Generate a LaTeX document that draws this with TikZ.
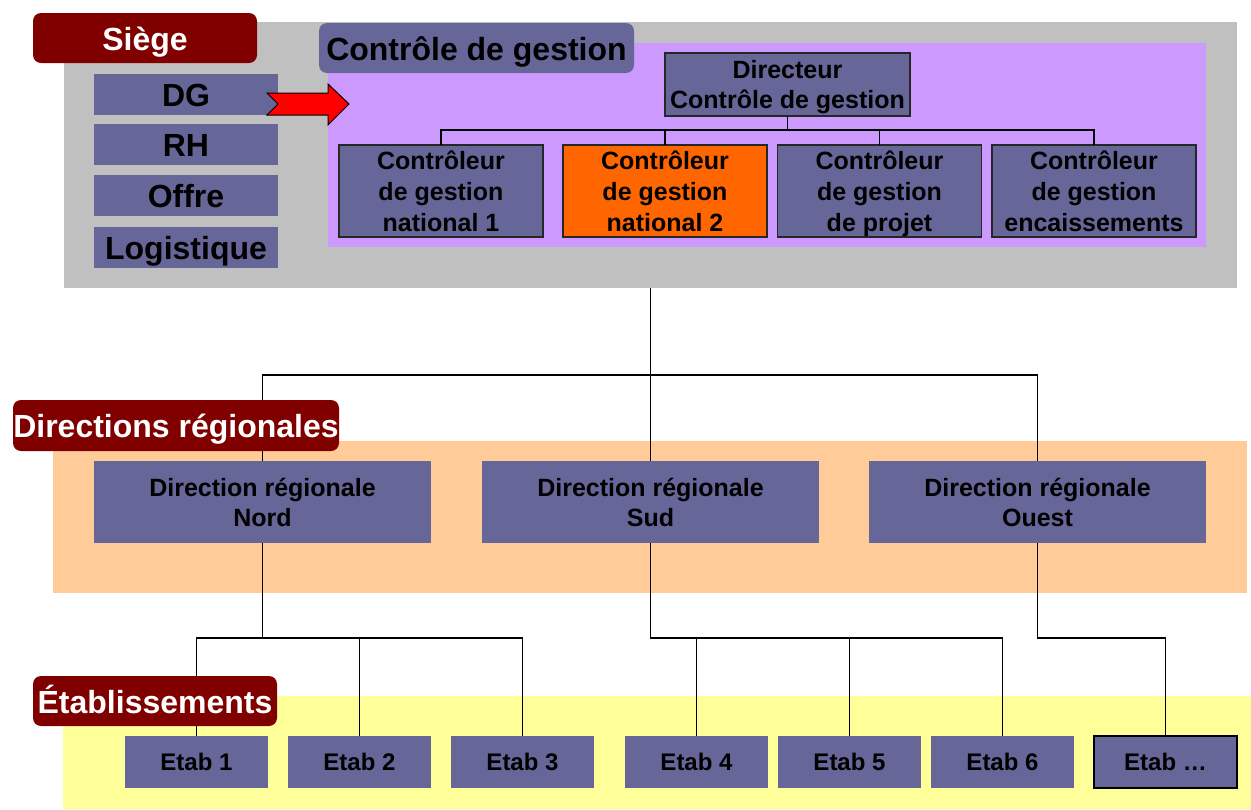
\documentclass[tikz,border=0pt]{standalone}
\usepackage{fontspec}
\setmainfont{Liberation Sans}
\begin{document}
\definecolor{greyzone}{HTML}{C0C0C0}
\definecolor{lilac}{HTML}{CC99FF}
\definecolor{slate}{HTML}{666699}
\definecolor{hilite}{HTML}{FF6600}
\definecolor{maroon}{HTML}{800000}
\definecolor{peach}{HTML}{FFCC99}
\definecolor{paleyellow}{HTML}{FFFF99}
\begin{tikzpicture}[x=1pt,y=-1pt,
  zone/.style={inner sep=0pt,outer sep=0pt,draw=none},
  tag/.style={zone,fill=maroon,rounded corners=8pt,text=white,
    text height=24pt,text depth=0pt,
    font=\fontsize{32}{36}\selectfont\bfseries},
  unit/.style={zone,fill=slate,font=\fontsize{32}{36}\selectfont\bfseries,
    text height=23pt,text depth=0pt,
    minimum width=184,minimum height=41},
  ctlbox/.style={inner sep=0pt,outer sep=0pt,fill=slate,draw=black!85,line width=1.3pt,
    align=center,font=\fontsize{25}{31}\selectfont\bfseries,text depth=0pt,
    minimum width=204,minimum height=92},
  regbox/.style={zone,fill=slate,align=center,text depth=0pt,
    font=\fontsize{25}{30}\selectfont\bfseries,
    minimum width=337,minimum height=82},
  etabbox/.style={zone,fill=slate,font=\fontsize{24}{28}\selectfont\bfseries,
    minimum width=143,minimum height=52},
  link/.style={draw=black,line width=1.3pt}]
\useasboundingbox (0,0) rectangle (1251,809);

% background zones
\node[zone,fill=greyzone,minimum width=1173,minimum height=266] (siege) at (650.5,155) {};
\node[zone,fill=lilac,minimum width=878,minimum height=204] (cgzone) at (767,145) {};
\node[zone,fill=peach,minimum width=1194,minimum height=152] (regzone) at (650,517) {};
\node[zone,fill=paleyellow,minimum width=1188,minimum height=113] (etabzone) at (657,752.5) {};

% headquarters departments
\node[unit] (dg) at (186,94.5) {DG};
\node[unit] (rh) at (186,144.5) {RH};
\node[unit] (offre) at (186,195.5) {Offre};
\node[unit] (logi) at (186,247.5) {Logistique};

% management control team
\node[ctlbox,minimum width=245,minimum height=63,font=\fontsize{25}{30}\selectfont\bfseries]
  (dir) at (787.5,84.5) {Directeur\\Contrôle de gestion};
\node[ctlbox] (c1) at (441,191) {Contrôleur\\de gestion\\ national 1};
\node[ctlbox,fill=hilite] (c2) at (665,191) {Contrôleur\\de gestion\\ national 2};
\node[ctlbox] (c3) at (879.5,191) {Contrôleur\\de gestion\\de projet};
\node[ctlbox] (c4) at (1094,191) {Contrôleur\\de gestion\\encaissements};

% regional directions
\node[regbox] (nord) at (262.5,502) {Direction régionale\\Nord};
\node[regbox] (sud) at (650.5,502) {Direction régionale\\Sud};
\node[regbox] (ouest) at (1037.5,502) {Direction régionale\\Ouest};

% establishments
\node[etabbox] (e1) at (196.5,762) {Etab 1};
\node[etabbox] (e2) at (359.5,762) {Etab 2};
\node[etabbox] (e3) at (522.5,762) {Etab 3};
\node[etabbox] (e4) at (696.5,762) {Etab 4};
\node[etabbox] (e5) at (849.5,762) {Etab 5};
\node[etabbox] (e6) at (1002.5,762) {Etab 6};
\node[etabbox,draw=black,line width=1.3pt] (e7) at (1165.5,762) {Etab …};

% connectors
\foreach \c in {c1,c2,c3,c4}
  \draw[link] (dir.south) -- ++(0,14) -| (\c.north);
\foreach \r in {nord,sud,ouest}
  \draw[link] (siege.south) -- ++(0,87) -| (\r.north);
\foreach \e in {e1,e2,e3}
  \draw[link] (nord.south) -- ++(0,95) -| (\e.north);
\foreach \e in {e4,e5,e6}
  \draw[link] (sud.south) -- ++(0,95) -| (\e.north);
\draw[link] (ouest.south) -- ++(0,95) -| (e7.north);

% link from the head office to management control
\coordinate (arrowtail) at (267,104);
\draw[fill=red,draw=black,line width=1pt,line join=miter]
  (arrowtail) ++(0,-11) -- ++(61,0) -- ++(0,-9) -- (349,104) -- (328,125)
  -- ++(0,-10) -- ++(-61,0) -- ++(11,-11) -- cycle;

% tier labels
\node[tag,minimum width=224,minimum height=50] (lsiege) at (145,38) {Siège};
\node[zone,fill=slate,rounded corners=8pt,minimum width=315,minimum height=50,
  text height=24pt,text depth=0pt,
  font=\fontsize{32}{36}\selectfont\bfseries] (lcg) at (476.5,48) {Contrôle de gestion};
\node[tag,minimum width=326,minimum height=51] (lreg) at (176,425.5) {Directions régionales};
\node[tag,minimum width=244,minimum height=50] (letab) at (155,701) {Établissements};
\end{tikzpicture}
\end{document}
